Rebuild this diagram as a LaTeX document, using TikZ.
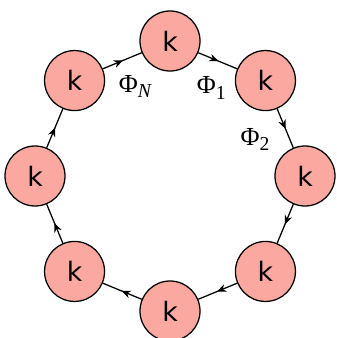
\documentclass[tikz,border=0pt]{standalone}
\usepackage{fontspec}
\usepackage{amsmath}
\usepackage{tikz}
\usetikzlibrary{arrows.meta,decorations.markings}
\newfontfamily\kfont{DejaVu Sans}
\newfontfamily\phifont{Liberation Serif}
\definecolor{kpink}{RGB}{250,168,160}
\newcommand{\phisub}[1]{\raisebox{-0.22em}{\fontsize{14}{16}\selectfont #1}}
\tikzset{
    site/.style={circle,draw=black,fill=kpink,line width=0.9pt,minimum size=1.5cm,inner sep=0pt,font=\kfont\fontsize{19}{22}\selectfont},
    midarrow/.style={line width=0.9pt,postaction={decorate,decoration={markings,mark=at position 0.52 with {\arrow{Stealth[length=2.3mm,width=1.9mm]}}}}},
    phase/.style={font=\phifont\fontsize{18.5}{22}\selectfont,inner sep=0pt}
}
\begin{document}
\begin{tikzpicture}
    \useasboundingbox (-4.25,-4.05) rectangle (4.175,4.4);
    \node[site] (top) at (90:3.375){k};
    \node[site] (topright) at (45:3.375){k};
    \node[site] (right) at (0:3.375){k};
    \node[site] (botright) at (-45:3.375){k};
    \node[site] (bot) at (-90:3.375){k};
    \node[site] (botleft) at (-135:3.375){k};
    \node[site] (left) at (180:3.375){k};
    \node[site] (topleft) at (135:3.375){k};
    \draw[midarrow] (topleft)--(top);
    \draw[midarrow] (top)--(topright);
    \draw[midarrow] (topright)--(right);
    \draw[midarrow] (right)--(botright);
    \draw[midarrow] (botright)--(bot);
    \draw[midarrow] (bot)--(botleft);
    \draw[midarrow] (botleft)--(left);
    \draw[midarrow] (left)--(topleft);
    \node[phase] (phiN) at (-0.875,2.24){Φ\phisub{\itshape N}};
    \node[phase] (phi1) at (1.03,2.2){Φ\phisub{1}};
    \node[phase] (phi2) at (2.125,0.91){Φ\phisub{2}};

\end{tikzpicture}
\end{document}
